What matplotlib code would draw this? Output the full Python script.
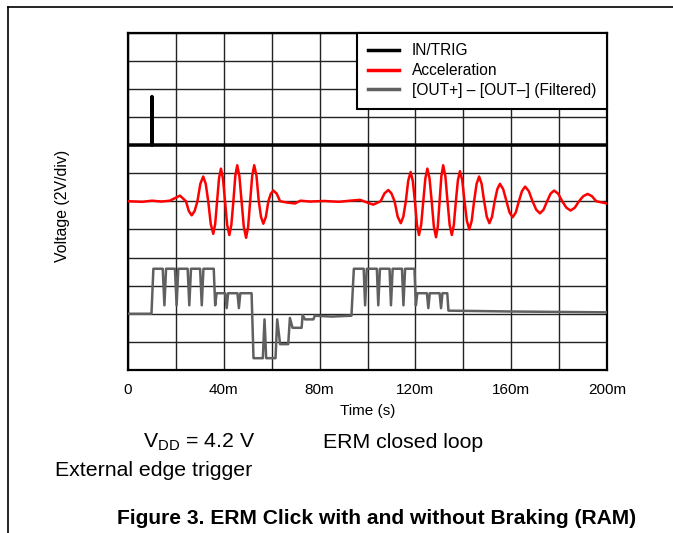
import matplotlib.pyplot as plt
from matplotlib.lines import Line2D

plt.rcParams['font.family'] = ['Liberation Sans', 'DejaVu Sans']

# scope traces, time in ms, voltage in divisions (0 = bottom of screen)
trig_t = [0, 9.9, 10.0, 10.1, 200]
trig_v = [8, 8, 9.72, 8, 8]

acc_t = [0, 6, 10, 14, 17.5, 21.7, 24.2,
         25.4, 26.6, 27.8, 29.0, 30.2, 31.4, 32.45, 33.5, 34.55, 35.6, 36.4, 37.2,
         38.0, 38.8, 39.65, 40.5, 41.4, 42.3, 43.15, 44.0, 44.8, 45.6, 46.5, 47.4,
         48.35, 49.3, 50.15, 51.0, 51.85, 52.7, 53.65, 54.6, 55.55, 56.5, 57.55, 58.6,
         59.65, 60.7, 62.1, 63.5,
         66, 69.7, 72, 76, 82, 88, 94, 96.9, 100, 102.4, 105.5,
         107.1, 108.7, 110.0, 111.3, 112.6, 113.9, 114.95, 116.0, 117.0, 118.0, 118.9,
         119.8, 120.65, 121.5, 122.4, 123.3, 124.15, 125.0, 125.9, 126.8, 127.7, 128.6,
         129.35, 130.1, 130.85, 131.6, 132.5, 133.4, 134.3, 135.2, 136.05, 136.9,
         137.75, 138.6, 139.55, 140.5, 141.5, 142.5, 143.5, 144.5, 145.55, 146.6,
         147.65, 148.7, 149.8, 150.9, 152.0, 153.1, 154.2, 155.3, 156.65, 158.0,
         159.3, 160.6, 161.9, 163.2, 164.5, 165.8, 167.35, 168.9, 170.45, 172.0,
         173.5, 175.0, 176.45, 177.9, 179.6, 181.3, 183.05, 184.8, 186.55, 188.3,
         190.1, 191.9, 193.7, 195.5, 199.5, 200]
acc_v = [6.0, 5.98, 6.02, 5.99, 6.02, 6.2, 6.0,
         5.65, 5.5, 5.65, 6.0, 6.62, 6.88, 6.62, 6.0, 5.19, 4.84, 5.19, 6.0,
         6.81, 7.16, 6.81, 6.0, 5.16, 4.8, 5.16, 6.0, 6.9, 7.28, 6.9, 6.0,
         5.09, 4.7, 5.09, 6.0, 6.9, 7.28, 6.9, 6.0, 5.44, 5.2, 5.44, 6.0,
         6.27, 6.38, 6.27, 6.0,
         5.96, 5.92, 6.02, 5.99, 6.01, 5.98, 6.03, 6.05, 5.95, 5.88, 6.0,
         6.28, 6.4, 6.28, 6.0, 5.45, 5.22, 5.45, 6.0, 6.73, 7.04, 6.73,
         6.0, 5.16, 4.8, 5.16, 6.0, 6.81, 7.16, 6.81, 6.0, 5.1, 4.72,
         5.1, 6.0, 6.9, 7.28, 6.9, 6.0, 5.16, 4.8, 5.16, 6.0,
         6.75, 7.07, 6.75, 6.0, 5.3, 5.0, 5.3, 6.0, 6.62, 6.88,
         6.62, 6.0, 5.45, 5.22, 5.45, 6.0, 6.43, 6.62, 6.43, 6.0,
         5.6, 5.43, 5.6, 6.0, 6.36, 6.52, 6.36, 6.0, 5.7, 5.57,
         5.7, 6.0, 6.27, 6.38, 6.27, 6.0, 5.77, 5.67, 5.77, 6.0,
         6.18, 6.26, 6.18, 6.0, 5.93, 5.92]

out_t = [0, 9.8, 10.6,
         14.5, 15.2, 15.9, 19.6, 20.3, 21.0, 24.9, 25.6, 26.3, 30.1, 30.8, 31.5,
         35.8, 36.4, 37.0,
         40.6, 41.2, 41.8, 45.7, 46.3, 46.9,
         51.6, 52.4, 56.3, 57.0, 57.7, 61.6, 62.3, 63.5, 66.9, 67.6, 68.7, 72.5,
         72.9, 73.9, 77.4, 78.0, 85.0, 93.3, 94.3,
         98.4, 99.0, 99.7, 103.9, 104.5, 105.2, 109.2, 109.8, 110.5, 114.4, 115.0, 115.7,
         119.6, 120.2, 120.8,
         124.8, 125.4, 126.0, 130.1, 130.7, 131.3,
         133.3, 133.8, 160.0, 200]
out_v = [2.0, 2.0, 3.6,
         3.6, 2.3, 3.6, 3.6, 2.3, 3.6, 3.6, 2.3, 3.6, 3.6, 2.3, 3.6,
         3.6, 2.3, 2.73,
         2.73, 2.2, 2.73, 2.73, 2.2, 2.73,
         2.73, 0.42, 0.42, 1.8, 0.42, 0.42, 1.8, 0.92, 0.92, 1.85, 1.5, 1.5,
         1.95, 1.8, 1.8, 1.93, 1.9, 1.93, 3.6,
         3.6, 2.3, 3.6, 3.6, 2.3, 3.6, 3.6, 2.3, 3.6, 3.6, 2.3, 3.6,
         3.6, 2.3, 2.73,
         2.73, 2.2, 2.73, 2.73, 2.2, 2.73,
         2.73, 2.11, 2.08, 2.05]

x_ticks = [0, 40, 80, 120, 160, 200]
x_tick_labels = ['0', '40m', '80m', '120m', '160m', '200m']

fig = plt.figure(figsize=(6.73, 5.33), dpi=100)
ax = fig.add_axes([128 / 673, 1 - 370 / 533, 479 / 673, 337.5 / 533])

ax.plot(trig_t, trig_v, color='black', lw=2.5, label='IN/TRIG', zorder=3)
ax.plot(acc_t, acc_v, color='#ff0000', lw=1.8, label='Acceleration', zorder=3,
        solid_joinstyle='round')
ax.plot(out_t, out_v, color='#606060', lw=1.8, label='[OUT+] \u2013 [OUT\u2013] (Filtered)',
        zorder=3, solid_joinstyle='round')

ax.set_xlim(0, 200)
ax.set_ylim(0, 12)
ax.set_xticks(x_ticks)
ax.set_xticklabels(x_tick_labels, fontsize=11)
ax.set_xticks(range(0, 201, 20), minor=True)
ax.set_yticks(range(0, 13))
ax.set_yticklabels([])
ax.tick_params(which='both', length=0, pad=9)
ax.grid(True, which='both', color='#222222', lw=1.0)
ax.set_axisbelow(True)
for s in ax.spines.values():
    s.set_linewidth(1.6)

leg = ax.legend(loc='upper right', borderaxespad=0, fontsize=11.2, fancybox=False,
                edgecolor='black', framealpha=1, handlelength=1.95, handletextpad=0.85,
                labelspacing=0.3, borderpad=0.7)
leg.get_frame().set_linewidth(1.5)
for h in leg.get_lines():
    h.set_linewidth(2.5)

fig.text(62 / 673, 1 - 206 / 533, 'Voltage (2V/div)', rotation=90, fontsize=11.4,
         ha='center', va='center')
fig.text(368 / 673, 1 - 411 / 533, 'Time (s)', fontsize=11, ha='center', va='center')
fig.text(143 / 673, 1 - 442 / 533, r'V$_{\mathregular{DD}}$ = 4.2 V', fontsize=15.3,
         ha='left', va='center')
fig.text(323 / 673, 1 - 442 / 533, 'ERM closed loop', fontsize=15.3, ha='left', va='center')
fig.text(55 / 673, 1 - 471 / 533, 'External edge trigger', fontsize=15.3, ha='left', va='center')
fig.text(377 / 673, 1 - 519 / 533, 'Figure 3. ERM Click with and without Braking (RAM)',
         fontsize=15.1, fontweight='bold', ha='center', va='center')

# page frame lines (top and left)
fig.add_artist(Line2D([8 / 673, 1], [1 - 7 / 533, 1 - 7 / 533], color='black', lw=1.2))
fig.add_artist(Line2D([8 / 673, 8 / 673], [0, 1 - 7 / 533], color='black', lw=1.2))

fig.savefig('out.png', dpi=100)
